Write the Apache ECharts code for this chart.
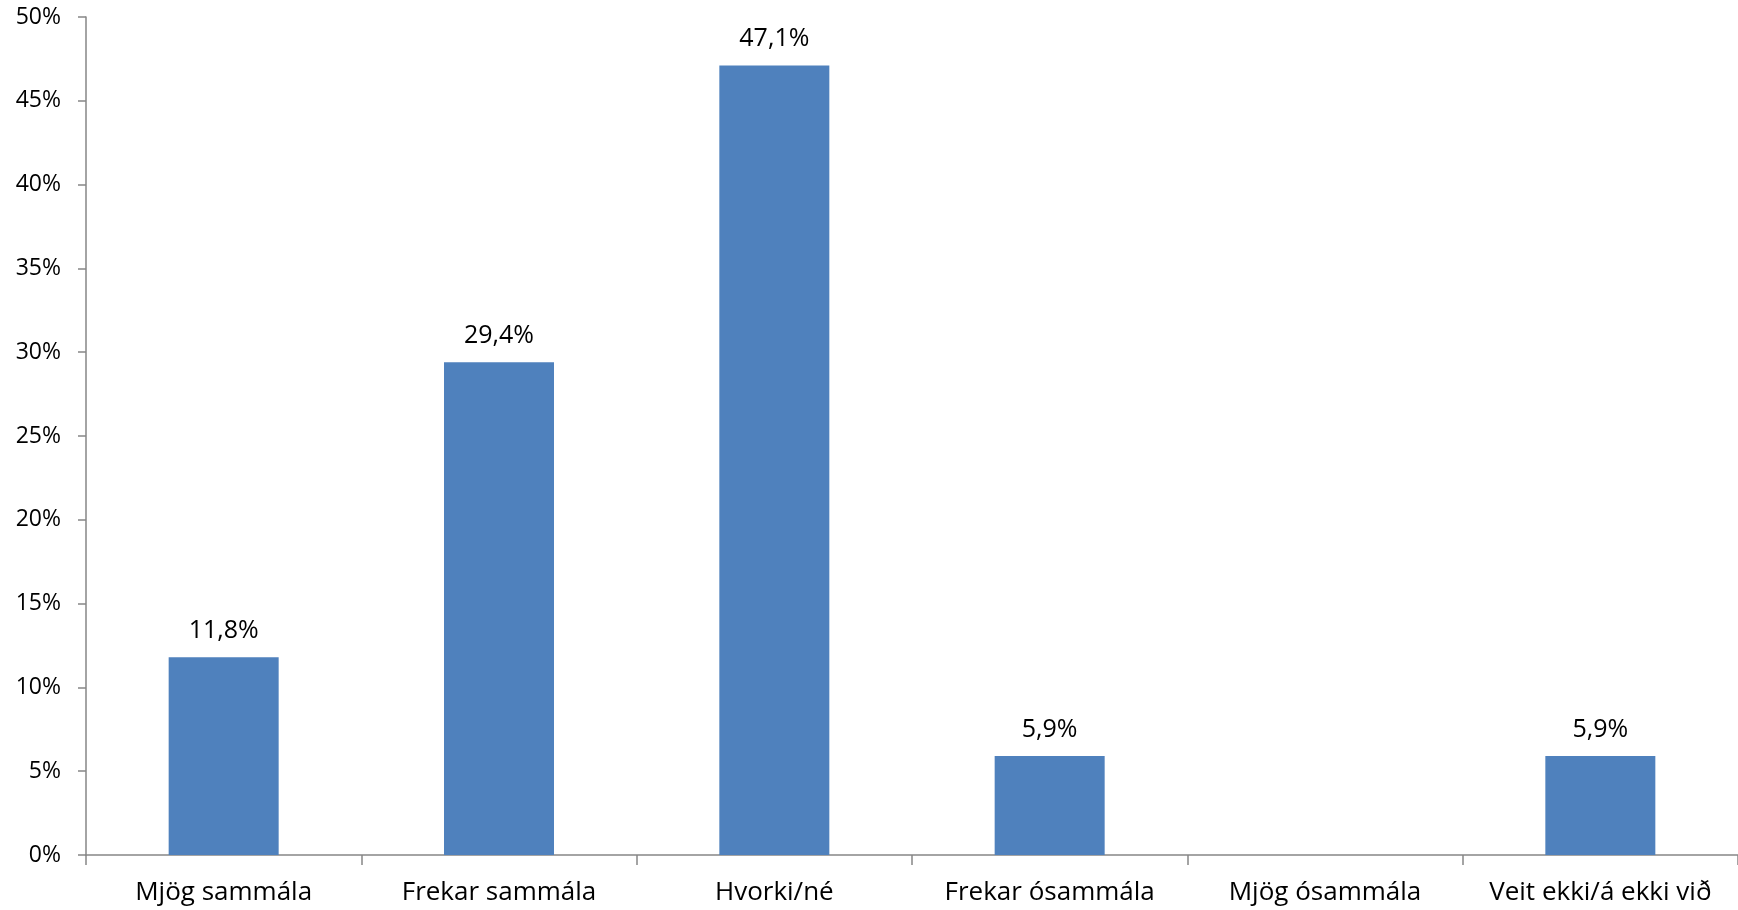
<!DOCTYPE html>
<html><head><meta charset="utf-8">
<script src="https://cdn.jsdelivr.net/npm/echarts@6/dist/echarts.min.js"></script>
<style>html,body{margin:0;padding:0;background:#fff}#c{width:1738px;height:910px}</style>
</head><body><div id="c"></div>
<script>
const categories = ["Mjög sammála","Frekar sammála","Hvorki/né","Frekar ósammála","Mjög ósammála","Veit ekki/á ekki við"];
const values = [11.8, 29.4, 47.1, 5.9, 0, 5.9];
const labels = ["11,8%","29,4%","47,1%","5,9%","","5,9%"];
const font = "Open Sans";
const chart = echarts.init(document.getElementById('c'));
chart.setOption({
  animation:false,
  grid:{left:86, right:-11, top:17, bottom:55, containLabel:false},
  xAxis:{type:'category', data:categories,
    axisLine:{lineStyle:{color:'#868686', width:1.5}},
    axisTick:{show:true, interval:0, length:10, lineStyle:{color:'#868686', width:1.5}},
    axisLabel:{interval:0, hideOverlap:false, color:'#000', fontFamily:font, fontSize:26, margin:25}},
  yAxis:{type:'value', min:0, max:50, interval:5,
    axisLine:{show:true, lineStyle:{color:'#868686', width:1.5}},
    axisTick:{show:true, length:8, lineStyle:{color:'#868686', width:1.5}},
    splitLine:{show:false},
    axisLabel:{color:'#000', fontFamily:font, fontSize:23, margin:25, formatter:'{value}%'}},
  series:[{type:'bar', data:values, barWidth:110, itemStyle:{color:'#4F81BD'},
    label:{show:true, position:'top', distance:14, color:'#000', fontFamily:font, fontSize:25,
      formatter:p=>labels[p.dataIndex]}}]
});
</script></body></html>
